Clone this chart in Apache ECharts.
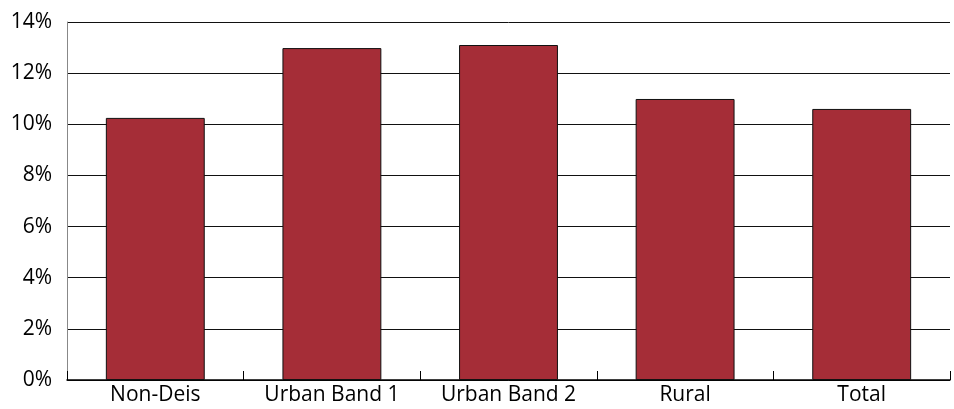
<!DOCTYPE html>
<html><head><meta charset="utf-8">
<script src="https://cdn.jsdelivr.net/npm/echarts@6/dist/echarts.min.js"></script>
<style>html,body{margin:0;padding:0;background:#fff}#c{width:954px;height:409px}</style>
</head><body><div id="c"></div>
<script>
const categories = ["Non-Deis", "Urban Band 1", "Urban Band 2", "Rural", "Total"];
const values = [0.1025, 0.1298, 0.1310, 0.1099, 0.1060];
const yTicks = [0, 0.02, 0.04, 0.06, 0.08, 0.10, 0.12, 0.14];

const chart = echarts.init(document.getElementById('c'));
chart.setOption({
  animation: false,
  grid: {left: 67, right: 4, top: 22, bottom: 29, containLabel: false},
  xAxis: {
    type: 'category', data: categories,
    axisLine: {lineStyle: {color: '#000', width: 1.5}},
    axisTick: {show: true, inside: true, length: 9, lineStyle: {color: '#000'}},
    axisLabel: {color: '#000', fontSize: 21, fontWeight: 500, fontFamily: 'Open Sans', margin: 5}
  },
  yAxis: {
    type: 'value', min: 0, max: 0.14, interval: 0.02,
    axisLine: {show: true, lineStyle: {color: '#888'}},
    axisTick: {show: false},
    splitLine: {lineStyle: {color: '#111', width: 1}},
    axisLabel: {color: '#000', fontSize: 21, fontWeight: 500, fontFamily: 'Open Sans', margin: 15,
      formatter: v => Math.round(v * 100) + '%'}
  },
  series: [{
    type: 'bar', data: values, barCategoryGap: '44%',
    itemStyle: {color: '#A52D37', borderColor: '#111', borderWidth: 1}
  }]
});
</script></body></html>
